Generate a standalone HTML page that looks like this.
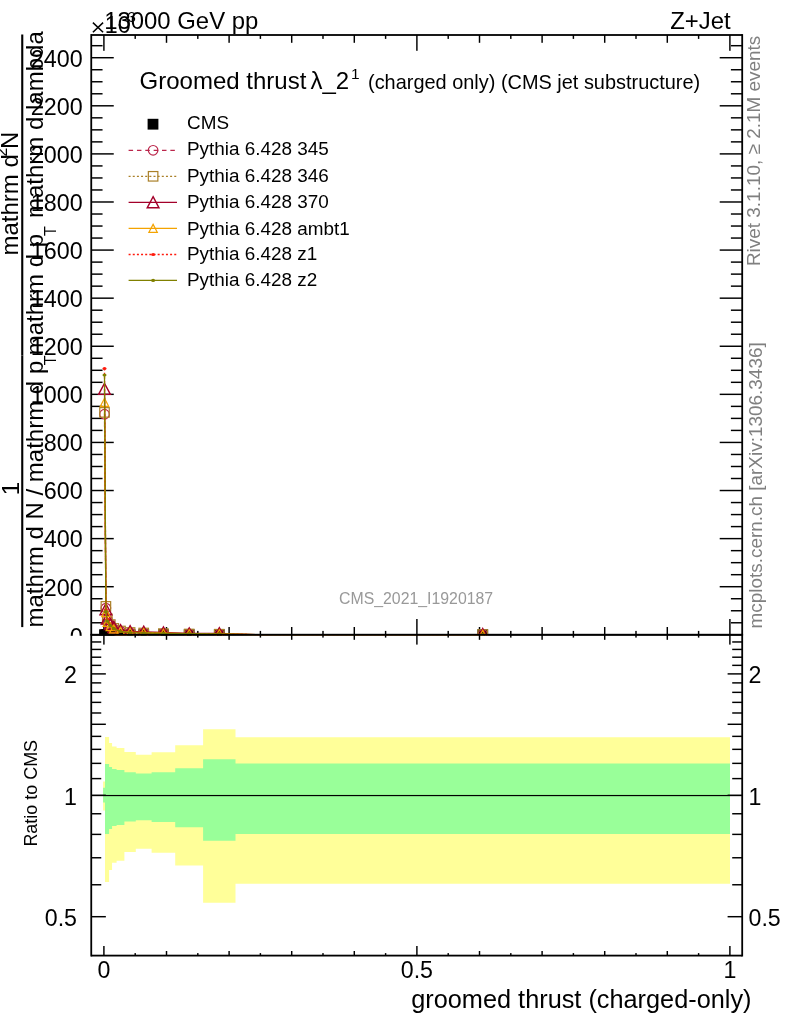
<!DOCTYPE html>
<html><head><meta charset="utf-8"><title>plot</title>
<style>html,body{margin:0;padding:0;background:#fff;}body{width:786px;height:1024px;overflow:hidden;font-family:"Liberation Sans",sans-serif;}svg{display:block;will-change:transform;}</style>
</head><body>
<svg width="786" height="1024" viewBox="0 0 786 1024" font-family="Liberation Sans, sans-serif">
<rect width="786" height="1024" fill="#fff"/>
<g id="ylabels" font-size="23.3" text-anchor="end" fill="#000">
<text x="82.6" y="645.00">0</text>
<text x="82.6" y="595.51">200</text>
<text x="82.6" y="547.42">400</text>
<text x="82.6" y="499.33">600</text>
<text x="82.6" y="451.24">800</text>
<text x="82.6" y="403.15">1000</text>
<text x="82.6" y="355.06">1200</text>
<text x="82.6" y="306.97">1400</text>
<text x="82.6" y="258.88">1600</text>
<text x="82.6" y="210.79">1800</text>
<text x="82.6" y="162.70">2000</text>
<text x="82.6" y="114.61">2200</text>
<text x="82.6" y="66.52">2400</text>
</g>
<g id="ytitle" fill="#000" font-size="24">
<text transform="translate(43,627.5) rotate(-90)">mathrm d N / mathrm d p</text>
<text transform="translate(55.9,365.3) rotate(-90)" font-size="16">T</text>
<text transform="translate(19.4,495.3) rotate(-90)">1</text>
<rect x="21.2" y="355.5" width="2.1" height="271.6"/>
<text transform="translate(43,355.3) rotate(-90)">mathrm d p</text>
<text transform="translate(55.9,236) rotate(-90)" font-size="16">T</text>
<text transform="translate(43,218) rotate(-90)">mathrm d lambda</text>
<text transform="translate(17.9,255.5) rotate(-90)">mathrm d</text>
<text transform="translate(6.8,156.6) rotate(-90)" font-size="16">2</text>
<text transform="translate(17.9,149) rotate(-90)">N</text>
<rect x="21.2" y="34.5" width="2.1" height="321"/>
</g>
<g fill="#000">
<rect x="90.35" y="34.10" width="1.8" height="601.60"/>
<rect x="741.30" y="34.10" width="1.8" height="601.60"/>
<rect x="91.25" y="34.10" width="650.95" height="1.8"/>
<rect x="91.25" y="633.90" width="650.95" height="1.8"/>
<rect x="91.25" y="634.07" width="22.50" height="1.45"/>
<rect x="719.70" y="634.07" width="22.50" height="1.45"/>
<rect x="91.25" y="622.05" width="11.30" height="1.45"/>
<rect x="730.90" y="622.05" width="11.30" height="1.45"/>
<rect x="91.25" y="610.03" width="11.30" height="1.45"/>
<rect x="730.90" y="610.03" width="11.30" height="1.45"/>
<rect x="91.25" y="598.01" width="11.30" height="1.45"/>
<rect x="730.90" y="598.01" width="11.30" height="1.45"/>
<rect x="91.25" y="585.98" width="22.50" height="1.45"/>
<rect x="719.70" y="585.98" width="22.50" height="1.45"/>
<rect x="91.25" y="573.96" width="11.30" height="1.45"/>
<rect x="730.90" y="573.96" width="11.30" height="1.45"/>
<rect x="91.25" y="561.94" width="11.30" height="1.45"/>
<rect x="730.90" y="561.94" width="11.30" height="1.45"/>
<rect x="91.25" y="549.92" width="11.30" height="1.45"/>
<rect x="730.90" y="549.92" width="11.30" height="1.45"/>
<rect x="91.25" y="537.89" width="22.50" height="1.45"/>
<rect x="719.70" y="537.89" width="22.50" height="1.45"/>
<rect x="91.25" y="525.87" width="11.30" height="1.45"/>
<rect x="730.90" y="525.87" width="11.30" height="1.45"/>
<rect x="91.25" y="513.85" width="11.30" height="1.45"/>
<rect x="730.90" y="513.85" width="11.30" height="1.45"/>
<rect x="91.25" y="501.83" width="11.30" height="1.45"/>
<rect x="730.90" y="501.83" width="11.30" height="1.45"/>
<rect x="91.25" y="489.80" width="22.50" height="1.45"/>
<rect x="719.70" y="489.80" width="22.50" height="1.45"/>
<rect x="91.25" y="477.78" width="11.30" height="1.45"/>
<rect x="730.90" y="477.78" width="11.30" height="1.45"/>
<rect x="91.25" y="465.76" width="11.30" height="1.45"/>
<rect x="730.90" y="465.76" width="11.30" height="1.45"/>
<rect x="91.25" y="453.74" width="11.30" height="1.45"/>
<rect x="730.90" y="453.74" width="11.30" height="1.45"/>
<rect x="91.25" y="441.71" width="22.50" height="1.45"/>
<rect x="719.70" y="441.71" width="22.50" height="1.45"/>
<rect x="91.25" y="429.69" width="11.30" height="1.45"/>
<rect x="730.90" y="429.69" width="11.30" height="1.45"/>
<rect x="91.25" y="417.67" width="11.30" height="1.45"/>
<rect x="730.90" y="417.67" width="11.30" height="1.45"/>
<rect x="91.25" y="405.65" width="11.30" height="1.45"/>
<rect x="730.90" y="405.65" width="11.30" height="1.45"/>
<rect x="91.25" y="393.62" width="22.50" height="1.45"/>
<rect x="719.70" y="393.62" width="22.50" height="1.45"/>
<rect x="91.25" y="381.60" width="11.30" height="1.45"/>
<rect x="730.90" y="381.60" width="11.30" height="1.45"/>
<rect x="91.25" y="369.58" width="11.30" height="1.45"/>
<rect x="730.90" y="369.58" width="11.30" height="1.45"/>
<rect x="91.25" y="357.56" width="11.30" height="1.45"/>
<rect x="730.90" y="357.56" width="11.30" height="1.45"/>
<rect x="91.25" y="345.53" width="22.50" height="1.45"/>
<rect x="719.70" y="345.53" width="22.50" height="1.45"/>
<rect x="91.25" y="333.51" width="11.30" height="1.45"/>
<rect x="730.90" y="333.51" width="11.30" height="1.45"/>
<rect x="91.25" y="321.49" width="11.30" height="1.45"/>
<rect x="730.90" y="321.49" width="11.30" height="1.45"/>
<rect x="91.25" y="309.47" width="11.30" height="1.45"/>
<rect x="730.90" y="309.47" width="11.30" height="1.45"/>
<rect x="91.25" y="297.44" width="22.50" height="1.45"/>
<rect x="719.70" y="297.44" width="22.50" height="1.45"/>
<rect x="91.25" y="285.42" width="11.30" height="1.45"/>
<rect x="730.90" y="285.42" width="11.30" height="1.45"/>
<rect x="91.25" y="273.40" width="11.30" height="1.45"/>
<rect x="730.90" y="273.40" width="11.30" height="1.45"/>
<rect x="91.25" y="261.38" width="11.30" height="1.45"/>
<rect x="730.90" y="261.38" width="11.30" height="1.45"/>
<rect x="91.25" y="249.35" width="22.50" height="1.45"/>
<rect x="719.70" y="249.35" width="22.50" height="1.45"/>
<rect x="91.25" y="237.33" width="11.30" height="1.45"/>
<rect x="730.90" y="237.33" width="11.30" height="1.45"/>
<rect x="91.25" y="225.31" width="11.30" height="1.45"/>
<rect x="730.90" y="225.31" width="11.30" height="1.45"/>
<rect x="91.25" y="213.29" width="11.30" height="1.45"/>
<rect x="730.90" y="213.29" width="11.30" height="1.45"/>
<rect x="91.25" y="201.26" width="22.50" height="1.45"/>
<rect x="719.70" y="201.26" width="22.50" height="1.45"/>
<rect x="91.25" y="189.24" width="11.30" height="1.45"/>
<rect x="730.90" y="189.24" width="11.30" height="1.45"/>
<rect x="91.25" y="177.22" width="11.30" height="1.45"/>
<rect x="730.90" y="177.22" width="11.30" height="1.45"/>
<rect x="91.25" y="165.20" width="11.30" height="1.45"/>
<rect x="730.90" y="165.20" width="11.30" height="1.45"/>
<rect x="91.25" y="153.17" width="22.50" height="1.45"/>
<rect x="719.70" y="153.17" width="22.50" height="1.45"/>
<rect x="91.25" y="141.15" width="11.30" height="1.45"/>
<rect x="730.90" y="141.15" width="11.30" height="1.45"/>
<rect x="91.25" y="129.13" width="11.30" height="1.45"/>
<rect x="730.90" y="129.13" width="11.30" height="1.45"/>
<rect x="91.25" y="117.11" width="11.30" height="1.45"/>
<rect x="730.90" y="117.11" width="11.30" height="1.45"/>
<rect x="91.25" y="105.08" width="22.50" height="1.45"/>
<rect x="719.70" y="105.08" width="22.50" height="1.45"/>
<rect x="91.25" y="93.06" width="11.30" height="1.45"/>
<rect x="730.90" y="93.06" width="11.30" height="1.45"/>
<rect x="91.25" y="81.04" width="11.30" height="1.45"/>
<rect x="730.90" y="81.04" width="11.30" height="1.45"/>
<rect x="91.25" y="69.02" width="11.30" height="1.45"/>
<rect x="730.90" y="69.02" width="11.30" height="1.45"/>
<rect x="91.25" y="56.99" width="22.50" height="1.45"/>
<rect x="719.70" y="56.99" width="22.50" height="1.45"/>
<rect x="91.25" y="44.97" width="11.30" height="1.45"/>
<rect x="730.90" y="44.97" width="11.30" height="1.45"/>
<rect x="103.18" y="35.00" width="1.45" height="15.80"/>
<rect x="103.18" y="619.00" width="1.45" height="15.80"/>
<rect x="134.48" y="35.00" width="1.45" height="3.90"/>
<rect x="134.48" y="630.90" width="1.45" height="3.90"/>
<rect x="165.78" y="35.00" width="1.45" height="7.80"/>
<rect x="165.78" y="627.00" width="1.45" height="7.80"/>
<rect x="197.08" y="35.00" width="1.45" height="3.90"/>
<rect x="197.08" y="630.90" width="1.45" height="3.90"/>
<rect x="228.38" y="35.00" width="1.45" height="7.80"/>
<rect x="228.38" y="627.00" width="1.45" height="7.80"/>
<rect x="259.67" y="35.00" width="1.45" height="3.90"/>
<rect x="259.67" y="630.90" width="1.45" height="3.90"/>
<rect x="290.98" y="35.00" width="1.45" height="7.80"/>
<rect x="290.98" y="627.00" width="1.45" height="7.80"/>
<rect x="322.27" y="35.00" width="1.45" height="3.90"/>
<rect x="322.27" y="630.90" width="1.45" height="3.90"/>
<rect x="353.57" y="35.00" width="1.45" height="7.80"/>
<rect x="353.57" y="627.00" width="1.45" height="7.80"/>
<rect x="384.88" y="35.00" width="1.45" height="3.90"/>
<rect x="384.88" y="630.90" width="1.45" height="3.90"/>
<rect x="416.17" y="35.00" width="1.45" height="15.80"/>
<rect x="416.17" y="619.00" width="1.45" height="15.80"/>
<rect x="447.48" y="35.00" width="1.45" height="3.90"/>
<rect x="447.48" y="630.90" width="1.45" height="3.90"/>
<rect x="478.78" y="35.00" width="1.45" height="7.80"/>
<rect x="478.78" y="627.00" width="1.45" height="7.80"/>
<rect x="510.08" y="35.00" width="1.45" height="3.90"/>
<rect x="510.08" y="630.90" width="1.45" height="3.90"/>
<rect x="541.38" y="35.00" width="1.45" height="7.80"/>
<rect x="541.38" y="627.00" width="1.45" height="7.80"/>
<rect x="572.67" y="35.00" width="1.45" height="3.90"/>
<rect x="572.67" y="630.90" width="1.45" height="3.90"/>
<rect x="603.98" y="35.00" width="1.45" height="7.80"/>
<rect x="603.98" y="627.00" width="1.45" height="7.80"/>
<rect x="635.27" y="35.00" width="1.45" height="3.90"/>
<rect x="635.27" y="630.90" width="1.45" height="3.90"/>
<rect x="666.57" y="35.00" width="1.45" height="7.80"/>
<rect x="666.57" y="627.00" width="1.45" height="7.80"/>
<rect x="697.88" y="35.00" width="1.45" height="3.90"/>
<rect x="697.88" y="630.90" width="1.45" height="3.90"/>
<rect x="729.17" y="35.00" width="1.45" height="15.80"/>
<rect x="729.17" y="619.00" width="1.45" height="15.80"/>
</g>
<clipPath id="cm"><rect x="91.25" y="35.0" width="650.95" height="600.8"/></clipPath>
<g clip-path="url(#cm)">
<rect x="99.10" y="629.30" width="10.8" height="10.8" fill="#000"/>
<rect x="100.50" y="629.30" width="10.8" height="10.8" fill="#000"/>
<rect x="101.90" y="629.30" width="10.8" height="10.8" fill="#000"/>
<rect x="104.90" y="629.30" width="10.8" height="10.8" fill="#000"/>
<rect x="108.40" y="629.30" width="10.8" height="10.8" fill="#000"/>
<rect x="115.10" y="629.30" width="10.8" height="10.8" fill="#000"/>
<rect x="124.70" y="629.30" width="10.8" height="10.8" fill="#000"/>
<rect x="138.30" y="629.30" width="10.8" height="10.8" fill="#000"/>
<rect x="158.00" y="629.30" width="10.8" height="10.8" fill="#000"/>
<rect x="183.80" y="629.30" width="10.8" height="10.8" fill="#000"/>
<rect x="213.90" y="629.30" width="10.8" height="10.8" fill="#000"/>
<rect x="477.35" y="629.30" width="10.8" height="10.8" fill="#000"/>
<polyline points="104.50,414.20 105.90,608.10 107.30,619.50 110.30,625.00 113.80,628.80 120.50,631.20 130.10,632.60 143.70,633.00 163.40,633.60 189.20,634.00 219.30,634.20 262.00,634.90 482.75,634.90" fill="none" stroke="#bb264b" stroke-width="1.3" stroke-dasharray="4.5 3.85"/>
<circle cx="104.50" cy="414.20" r="4.8" fill="none" stroke="#bb264b" stroke-width="1.2"/>
<circle cx="105.90" cy="608.10" r="4.8" fill="none" stroke="#bb264b" stroke-width="1.2"/>
<circle cx="107.30" cy="619.50" r="4.8" fill="none" stroke="#bb264b" stroke-width="1.2"/>
<circle cx="110.30" cy="625.00" r="4.8" fill="none" stroke="#bb264b" stroke-width="1.2"/>
<circle cx="113.80" cy="628.80" r="4.8" fill="none" stroke="#bb264b" stroke-width="1.2"/>
<circle cx="120.50" cy="631.20" r="4.8" fill="none" stroke="#bb264b" stroke-width="1.2"/>
<circle cx="130.10" cy="632.60" r="4.8" fill="none" stroke="#bb264b" stroke-width="1.2"/>
<circle cx="143.70" cy="633.00" r="4.8" fill="none" stroke="#bb264b" stroke-width="1.2"/>
<circle cx="163.40" cy="633.60" r="4.8" fill="none" stroke="#bb264b" stroke-width="1.2"/>
<circle cx="189.20" cy="634.00" r="4.8" fill="none" stroke="#bb264b" stroke-width="1.2"/>
<circle cx="219.30" cy="634.20" r="4.8" fill="none" stroke="#bb264b" stroke-width="1.2"/>
<circle cx="482.75" cy="634.50" r="4.8" fill="none" stroke="#bb264b" stroke-width="1.2"/>
<polyline points="104.50,412.40 105.90,606.40 107.30,618.75 110.30,624.60 113.80,628.40 120.50,631.00 130.10,632.50 143.70,633.00 163.40,633.60 189.20,634.00 219.30,634.20 262.00,634.90 482.75,634.90" fill="none" stroke="#aa8028" stroke-width="1.3" stroke-dasharray="2.0 2.15"/>
<rect x="99.75" y="407.65" width="9.5" height="9.5" fill="none" stroke="#aa8028" stroke-width="1.2"/>
<rect x="101.15" y="601.65" width="9.5" height="9.5" fill="none" stroke="#aa8028" stroke-width="1.2"/>
<rect x="102.55" y="614.00" width="9.5" height="9.5" fill="none" stroke="#aa8028" stroke-width="1.2"/>
<rect x="105.55" y="619.85" width="9.5" height="9.5" fill="none" stroke="#aa8028" stroke-width="1.2"/>
<rect x="109.05" y="623.65" width="9.5" height="9.5" fill="none" stroke="#aa8028" stroke-width="1.2"/>
<rect x="115.75" y="626.25" width="9.5" height="9.5" fill="none" stroke="#aa8028" stroke-width="1.2"/>
<rect x="125.35" y="627.75" width="9.5" height="9.5" fill="none" stroke="#aa8028" stroke-width="1.2"/>
<rect x="138.95" y="628.25" width="9.5" height="9.5" fill="none" stroke="#aa8028" stroke-width="1.2"/>
<rect x="158.65" y="628.85" width="9.5" height="9.5" fill="none" stroke="#aa8028" stroke-width="1.2"/>
<rect x="184.45" y="629.25" width="9.5" height="9.5" fill="none" stroke="#aa8028" stroke-width="1.2"/>
<rect x="214.55" y="629.45" width="9.5" height="9.5" fill="none" stroke="#aa8028" stroke-width="1.2"/>
<rect x="478.00" y="629.75" width="9.5" height="9.5" fill="none" stroke="#aa8028" stroke-width="1.2"/>
<polyline points="104.50,388.90 105.90,609.20 107.30,618.60 110.30,624.00 113.80,627.00 120.50,630.30 130.10,631.30 143.70,631.80 163.40,632.50 189.20,633.50 219.30,633.30 262.00,634.90 482.75,634.90" fill="none" stroke="#a3002a" stroke-width="1.3"/>
<path d="M104.50 383.30 L110.40 394.40 L98.60 394.40 Z" fill="none" stroke="#a3002a" stroke-width="1.4"/>
<path d="M105.90 603.60 L111.80 614.70 L100.00 614.70 Z" fill="none" stroke="#a3002a" stroke-width="1.4"/>
<path d="M107.30 613.00 L113.20 624.10 L101.40 624.10 Z" fill="none" stroke="#a3002a" stroke-width="1.4"/>
<path d="M110.30 618.40 L116.20 629.50 L104.40 629.50 Z" fill="none" stroke="#a3002a" stroke-width="1.4"/>
<path d="M113.80 621.40 L119.70 632.50 L107.90 632.50 Z" fill="none" stroke="#a3002a" stroke-width="1.4"/>
<path d="M120.50 624.70 L126.40 635.80 L114.60 635.80 Z" fill="none" stroke="#a3002a" stroke-width="1.4"/>
<path d="M130.10 625.70 L136.00 636.80 L124.20 636.80 Z" fill="none" stroke="#a3002a" stroke-width="1.4"/>
<path d="M143.70 626.20 L149.60 637.30 L137.80 637.30 Z" fill="none" stroke="#a3002a" stroke-width="1.4"/>
<path d="M163.40 626.90 L169.30 638.00 L157.50 638.00 Z" fill="none" stroke="#a3002a" stroke-width="1.4"/>
<path d="M189.20 627.90 L195.10 639.00 L183.30 639.00 Z" fill="none" stroke="#a3002a" stroke-width="1.4"/>
<path d="M219.30 627.70 L225.20 638.80 L213.40 638.80 Z" fill="none" stroke="#a3002a" stroke-width="1.4"/>
<path d="M482.75 628.60 L488.65 639.70 L476.85 639.70 Z" fill="none" stroke="#a3002a" stroke-width="1.4"/>
<polyline points="104.50,402.40 105.90,612.80 107.30,622.40 110.30,626.70 113.80,629.00 120.50,631.30 130.10,632.20 143.70,632.50 163.40,633.20 189.20,633.70 219.30,633.70 262.00,634.90 482.75,634.90" fill="none" stroke="#f4a300" stroke-width="1.3"/>
<path d="M104.50 398.40 L108.70 406.30 L100.30 406.30 Z" fill="none" stroke="#f4a300" stroke-width="1.2"/>
<path d="M105.90 608.80 L110.10 616.70 L101.70 616.70 Z" fill="none" stroke="#f4a300" stroke-width="1.2"/>
<path d="M107.30 618.40 L111.50 626.30 L103.10 626.30 Z" fill="none" stroke="#f4a300" stroke-width="1.2"/>
<path d="M110.30 622.70 L114.50 630.60 L106.10 630.60 Z" fill="none" stroke="#f4a300" stroke-width="1.2"/>
<path d="M113.80 625.00 L118.00 632.90 L109.60 632.90 Z" fill="none" stroke="#f4a300" stroke-width="1.2"/>
<path d="M120.50 627.30 L124.70 635.20 L116.30 635.20 Z" fill="none" stroke="#f4a300" stroke-width="1.2"/>
<path d="M130.10 628.20 L134.30 636.10 L125.90 636.10 Z" fill="none" stroke="#f4a300" stroke-width="1.2"/>
<path d="M143.70 628.50 L147.90 636.40 L139.50 636.40 Z" fill="none" stroke="#f4a300" stroke-width="1.2"/>
<path d="M163.40 629.20 L167.60 637.10 L159.20 637.10 Z" fill="none" stroke="#f4a300" stroke-width="1.2"/>
<path d="M189.20 629.70 L193.40 637.60 L185.00 637.60 Z" fill="none" stroke="#f4a300" stroke-width="1.2"/>
<path d="M219.30 629.70 L223.50 637.60 L215.10 637.60 Z" fill="none" stroke="#f4a300" stroke-width="1.2"/>
<path d="M482.75 630.40 L486.95 638.30 L478.55 638.30 Z" fill="none" stroke="#f4a300" stroke-width="1.2"/>
<polyline points="104.50,368.50 105.90,609.70 107.30,619.20 110.30,625.00 113.80,628.70 120.50,631.30 130.10,632.60 143.70,633.00 163.40,633.40 189.20,633.70 219.30,633.80 262.00,634.90 482.75,634.90" fill="none" stroke="#ff1a0d" stroke-width="1.3" stroke-dasharray="2.0 2.15"/>
<ellipse cx="104.50" cy="368.50" rx="2.0" ry="1.6" fill="#ff1a0d"/>
<ellipse cx="105.90" cy="609.70" rx="2.0" ry="1.6" fill="#ff1a0d"/>
<ellipse cx="107.30" cy="619.20" rx="2.0" ry="1.6" fill="#ff1a0d"/>
<ellipse cx="110.30" cy="625.00" rx="2.0" ry="1.6" fill="#ff1a0d"/>
<ellipse cx="113.80" cy="628.70" rx="2.0" ry="1.6" fill="#ff1a0d"/>
<ellipse cx="120.50" cy="631.30" rx="2.0" ry="1.6" fill="#ff1a0d"/>
<ellipse cx="130.10" cy="632.60" rx="2.0" ry="1.6" fill="#ff1a0d"/>
<ellipse cx="143.70" cy="633.00" rx="2.0" ry="1.6" fill="#ff1a0d"/>
<ellipse cx="163.40" cy="633.40" rx="2.0" ry="1.6" fill="#ff1a0d"/>
<ellipse cx="189.20" cy="633.70" rx="2.0" ry="1.6" fill="#ff1a0d"/>
<ellipse cx="219.30" cy="633.80" rx="2.0" ry="1.6" fill="#ff1a0d"/>
<ellipse cx="482.75" cy="634.50" rx="2.0" ry="1.6" fill="#ff1a0d"/>
<polyline points="104.50,375.00 105.90,611.70 107.30,621.00 110.30,625.40 113.80,628.60 120.50,631.50 130.10,632.70 143.70,633.00 163.40,633.40 189.20,633.70 219.30,633.80 262.00,634.90 482.75,634.90" fill="none" stroke="#808000" stroke-width="1.3"/>
<ellipse cx="104.50" cy="375.00" rx="2.0" ry="1.6" fill="#808000"/>
<ellipse cx="105.90" cy="611.70" rx="2.0" ry="1.6" fill="#808000"/>
<ellipse cx="107.30" cy="621.00" rx="2.0" ry="1.6" fill="#808000"/>
<ellipse cx="110.30" cy="625.40" rx="2.0" ry="1.6" fill="#808000"/>
<ellipse cx="113.80" cy="628.60" rx="2.0" ry="1.6" fill="#808000"/>
<ellipse cx="120.50" cy="631.50" rx="2.0" ry="1.6" fill="#808000"/>
<ellipse cx="130.10" cy="632.70" rx="2.0" ry="1.6" fill="#808000"/>
<ellipse cx="143.70" cy="633.00" rx="2.0" ry="1.6" fill="#808000"/>
<ellipse cx="163.40" cy="633.40" rx="2.0" ry="1.6" fill="#808000"/>
<ellipse cx="189.20" cy="633.70" rx="2.0" ry="1.6" fill="#808000"/>
<ellipse cx="219.30" cy="633.80" rx="2.0" ry="1.6" fill="#808000"/>
<ellipse cx="482.75" cy="634.50" rx="2.0" ry="1.6" fill="#808000"/>
</g>
<rect x="0" y="635.80" width="786" height="389.20000000000005" fill="#fff"/>
<path d="M103.1 781.5 L105.0 781.5 L105.0 737.05 L109.1 737.05 L109.1 742.9 L112.05 742.9 L112.05 746.4 L116.6 746.4 L116.6 748.1 L124.4 748.1 L124.4 752 L135.8 752 L135.8 754.8 L151.6 754.8 L151.6 752.2 L175.2 752.2 L175.2 745.3 L203.1 745.3 L203.1 729.3 L235.5 729.3 L235.5 737.2 L730 737.2 L730 883.7 L235.5 883.7 L235.5 902.8 L203.1 902.8 L203.1 865.4 L175.2 865.4 L175.2 852.7 L151.6 852.7 L151.6 848.7 L135.8 848.7 L135.8 851.9 L124.4 851.9 L124.4 860.7 L116.6 860.7 L116.6 862.8 L112.05 862.8 L112.05 870 L109.1 870 L109.1 882.1 L105.0 882.1 L105.0 810.5 L103.1 810.5 Z" fill="#ffff99"/>
<path d="M103.1 787.7 L105.0 787.7 L105.0 764 L109.1 764 L109.1 767.1 L112.05 767.1 L112.05 768.9 L116.6 768.9 L116.6 770.1 L124.4 770.1 L124.4 772.2 L135.8 772.2 L135.8 773.6 L151.6 773.6 L151.6 772.3 L175.2 772.3 L175.2 768.2 L203.1 768.2 L203.1 759.3 L235.5 759.3 L235.5 763.6 L730 763.6 L730 833.9 L235.5 833.9 L235.5 840.7 L203.1 840.7 L203.1 827.2 L175.2 827.2 L175.2 822.1 L151.6 822.1 L151.6 820.2 L135.8 820.2 L135.8 821.6 L124.4 821.6 L124.4 825.1 L116.6 825.1 L116.6 826 L112.05 826 L112.05 829 L109.1 829 L109.1 834 L105.0 834 L105.0 802.6 L103.1 802.6 Z" fill="#99ff99"/>
<rect x="91.25" y="794.95" width="650.95" height="1.2" fill="#000"/>
<g fill="#000">
<rect x="90.35" y="633.90" width="1.8" height="322.60"/>
<rect x="741.30" y="633.90" width="1.8" height="322.60"/>
<rect x="91.25" y="633.90" width="650.95" height="1.8"/>
<rect x="91.25" y="954.70" width="650.95" height="1.8"/>
<rect x="103.18" y="634.80" width="1.45" height="9.80"/>
<rect x="103.18" y="946.00" width="1.45" height="9.60"/>
<rect x="134.48" y="634.80" width="1.45" height="2.80"/>
<rect x="134.48" y="953.10" width="1.45" height="2.50"/>
<rect x="165.78" y="634.80" width="1.45" height="5.00"/>
<rect x="165.78" y="951.00" width="1.45" height="4.60"/>
<rect x="197.08" y="634.80" width="1.45" height="2.80"/>
<rect x="197.08" y="953.10" width="1.45" height="2.50"/>
<rect x="228.38" y="634.80" width="1.45" height="5.00"/>
<rect x="228.38" y="951.00" width="1.45" height="4.60"/>
<rect x="259.67" y="634.80" width="1.45" height="2.80"/>
<rect x="259.67" y="953.10" width="1.45" height="2.50"/>
<rect x="290.98" y="634.80" width="1.45" height="5.00"/>
<rect x="290.98" y="951.00" width="1.45" height="4.60"/>
<rect x="322.27" y="634.80" width="1.45" height="2.80"/>
<rect x="322.27" y="953.10" width="1.45" height="2.50"/>
<rect x="353.57" y="634.80" width="1.45" height="5.00"/>
<rect x="353.57" y="951.00" width="1.45" height="4.60"/>
<rect x="384.88" y="634.80" width="1.45" height="2.80"/>
<rect x="384.88" y="953.10" width="1.45" height="2.50"/>
<rect x="416.17" y="634.80" width="1.45" height="9.80"/>
<rect x="416.17" y="946.00" width="1.45" height="9.60"/>
<rect x="447.48" y="634.80" width="1.45" height="2.80"/>
<rect x="447.48" y="953.10" width="1.45" height="2.50"/>
<rect x="478.78" y="634.80" width="1.45" height="5.00"/>
<rect x="478.78" y="951.00" width="1.45" height="4.60"/>
<rect x="510.08" y="634.80" width="1.45" height="2.80"/>
<rect x="510.08" y="953.10" width="1.45" height="2.50"/>
<rect x="541.38" y="634.80" width="1.45" height="5.00"/>
<rect x="541.38" y="951.00" width="1.45" height="4.60"/>
<rect x="572.67" y="634.80" width="1.45" height="2.80"/>
<rect x="572.67" y="953.10" width="1.45" height="2.50"/>
<rect x="603.98" y="634.80" width="1.45" height="5.00"/>
<rect x="603.98" y="951.00" width="1.45" height="4.60"/>
<rect x="635.27" y="634.80" width="1.45" height="2.80"/>
<rect x="635.27" y="953.10" width="1.45" height="2.50"/>
<rect x="666.57" y="634.80" width="1.45" height="5.00"/>
<rect x="666.57" y="951.00" width="1.45" height="4.60"/>
<rect x="697.88" y="634.80" width="1.45" height="2.80"/>
<rect x="697.88" y="953.10" width="1.45" height="2.50"/>
<rect x="729.17" y="634.80" width="1.45" height="9.80"/>
<rect x="729.17" y="946.00" width="1.45" height="9.60"/>
<rect x="91.25" y="915.97" width="14.60" height="1.45"/>
<rect x="727.60" y="915.97" width="14.60" height="1.45"/>
<rect x="91.25" y="884.04" width="10.00" height="1.45"/>
<rect x="732.20" y="884.04" width="10.00" height="1.45"/>
<rect x="91.25" y="857.04" width="10.00" height="1.45"/>
<rect x="732.20" y="857.04" width="10.00" height="1.45"/>
<rect x="91.25" y="833.66" width="10.00" height="1.45"/>
<rect x="732.20" y="833.66" width="10.00" height="1.45"/>
<rect x="91.25" y="813.03" width="10.00" height="1.45"/>
<rect x="732.20" y="813.03" width="10.00" height="1.45"/>
<rect x="91.25" y="794.57" width="14.60" height="1.45"/>
<rect x="727.60" y="794.57" width="14.60" height="1.45"/>
<rect x="91.25" y="777.88" width="10.00" height="1.45"/>
<rect x="732.20" y="777.88" width="10.00" height="1.45"/>
<rect x="91.25" y="762.64" width="10.00" height="1.45"/>
<rect x="732.20" y="762.64" width="10.00" height="1.45"/>
<rect x="91.25" y="748.62" width="10.00" height="1.45"/>
<rect x="732.20" y="748.62" width="10.00" height="1.45"/>
<rect x="91.25" y="735.64" width="10.00" height="1.45"/>
<rect x="732.20" y="735.64" width="10.00" height="1.45"/>
<rect x="91.25" y="723.56" width="14.60" height="1.45"/>
<rect x="727.60" y="723.56" width="14.60" height="1.45"/>
<rect x="91.25" y="712.26" width="10.00" height="1.45"/>
<rect x="732.20" y="712.26" width="10.00" height="1.45"/>
<rect x="91.25" y="701.64" width="10.00" height="1.45"/>
<rect x="732.20" y="701.64" width="10.00" height="1.45"/>
<rect x="91.25" y="691.63" width="10.00" height="1.45"/>
<rect x="732.20" y="691.63" width="10.00" height="1.45"/>
<rect x="91.25" y="682.16" width="10.00" height="1.45"/>
<rect x="732.20" y="682.16" width="10.00" height="1.45"/>
<rect x="91.25" y="673.17" width="14.60" height="1.45"/>
<rect x="727.60" y="673.17" width="14.60" height="1.45"/>
<rect x="91.25" y="664.63" width="10.00" height="1.45"/>
<rect x="732.20" y="664.63" width="10.00" height="1.45"/>
<rect x="91.25" y="656.48" width="10.00" height="1.45"/>
<rect x="732.20" y="656.48" width="10.00" height="1.45"/>
<rect x="91.25" y="648.70" width="10.00" height="1.45"/>
<rect x="732.20" y="648.70" width="10.00" height="1.45"/>
<rect x="91.25" y="641.24" width="10.00" height="1.45"/>
<rect x="732.20" y="641.24" width="10.00" height="1.45"/>
</g>
<text x="104.2" y="28.6" font-size="23.9">13000 GeV pp</text>
<text x="730.6" y="28.6" font-size="23.9" text-anchor="end">Z+Jet</text>
<path d="M92.9 22.6 L103.1 32.2 M103.1 22.6 L92.9 32.2" stroke="#000" stroke-width="1.5" fill="none"/>
<text x="104.8" y="33.3" font-size="23.3">10</text>
<text x="127.6" y="21.5" font-size="15">3</text>
<text x="139.6" y="88.8" font-size="24">Groomed thrust</text>
<text x="310.5" y="88.8" font-size="24">λ_2</text>
<text x="351" y="79" font-size="15.5">1</text>
<text x="368" y="88.8" font-size="19.93">(charged only) (CMS jet substructure)</text>
<g font-size="18.9">
<text x="187" y="129.4">CMS</text>
<text x="187" y="155.4">Pythia 6.428 345</text>
<text x="187" y="182">Pythia 6.428 346</text>
<text x="187" y="208.2">Pythia 6.428 370</text>
<text x="187" y="234.5">Pythia 6.428 ambt1</text>
<text x="187" y="259.8">Pythia 6.428 z1</text>
<text x="187" y="285.8">Pythia 6.428 z2</text>
</g>
<rect x="147.6" y="118.8" width="10.8" height="10.8" fill="#000"/>
<line x1="128.6" x2="177" y1="150.3" y2="150.3" stroke="#bb264b" stroke-width="1.3" stroke-dasharray="4.5 3.85"/>
<circle cx="153.10" cy="150.30" r="4.8" fill="none" stroke="#bb264b" stroke-width="1.2"/>
<line x1="128.6" x2="177" y1="176.3" y2="176.3" stroke="#aa8028" stroke-width="1.3" stroke-dasharray="2.0 2.15"/>
<rect x="148.35" y="171.55" width="9.5" height="9.5" fill="none" stroke="#aa8028" stroke-width="1.2"/>
<line x1="128.6" x2="177" y1="202.3" y2="202.3" stroke="#a3002a" stroke-width="1.3"/>
<path d="M153.10 196.70 L159.00 207.80 L147.20 207.80 Z" fill="none" stroke="#a3002a" stroke-width="1.4"/>
<line x1="128.6" x2="177" y1="228.4" y2="228.4" stroke="#f4a300" stroke-width="1.3"/>
<path d="M153.10 224.40 L157.30 232.30 L148.90 232.30 Z" fill="none" stroke="#f4a300" stroke-width="1.2"/>
<line x1="128.6" x2="177" y1="254.5" y2="254.5" stroke="#ff1a0d" stroke-width="1.3" stroke-dasharray="2.0 2.15"/>
<ellipse cx="153.10" cy="254.50" rx="2.0" ry="1.6" fill="#ff1a0d"/>
<line x1="128.6" x2="177" y1="280.4" y2="280.4" stroke="#808000" stroke-width="1.3"/>
<ellipse cx="153.10" cy="280.40" rx="2.0" ry="1.6" fill="#808000"/>
<text x="339" y="604.3" font-size="15.85" fill="#999">CMS_2021_I1920187</text>
<text transform="translate(760.3,266.1) rotate(-90)" font-size="18.95" fill="#808080">Rivet 3.1.10, ≥ 2.1M events</text>
<text transform="translate(762.2,628.6) rotate(-90)" font-size="18.95" fill="#808080">mcplots.cern.ch [arXiv:1306.3436]</text>
<g font-size="23.2">
<text x="77" y="683.40" text-anchor="end">2</text>
<text x="77" y="804.80" text-anchor="end">1</text>
<text x="77" y="926.20" text-anchor="end">0.5</text>
<text x="748.5" y="683.40">2</text>
<text x="748.5" y="804.80">1</text>
<text x="748.5" y="926.20">0.5</text>
<text x="103.90" y="978.4" text-anchor="middle">0</text>
<text x="416.90" y="978.4" text-anchor="middle">0.5</text>
<text x="729.90" y="978.4" text-anchor="middle">1</text>
</g>
<text transform="translate(36.7,846.6) rotate(-90)" font-size="17.95">Ratio to CMS</text>
<text x="751.5" y="1007.5" font-size="25.3" text-anchor="end">groomed thrust (charged-only)</text>
</svg>
</body></html>
